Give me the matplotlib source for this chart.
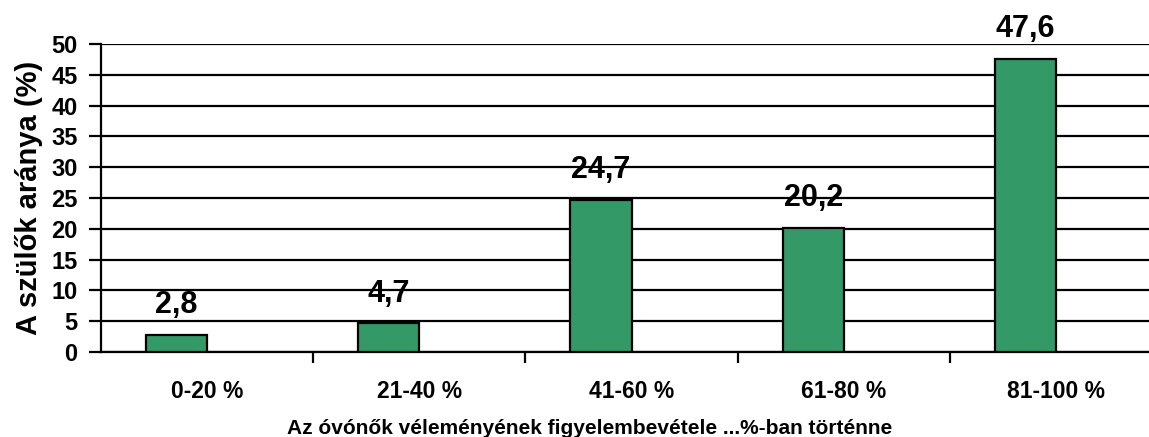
import matplotlib.pyplot as plt
import numpy as np

plt.rcParams['font.family'] = ['Liberation Sans', 'DejaVu Sans']
plt.rcParams['font.weight'] = 'bold'

categories = ["0-20 %", "21-40 %", "41-60 %", "61-80 %", "81-100 %"]
values = [2.8, 4.7, 24.7, 20.2, 47.6]
value_labels = ["2,8", "4,7", "24,7", "20,2", "47,6"]

fig = plt.figure(figsize=(11.49, 4.37), dpi=100)
# the plot area runs a little past the right edge, as in the original
ax = fig.add_axes([101 / 1149, 85 / 437, 1061 / 1149, 308 / 437])

x = np.arange(len(categories))
bar_w = 0.288
ax.bar(x - bar_w / 2, values, width=bar_w, color='#339966',
       edgecolor='black', linewidth=1.6, zorder=3)

for xi, v, lab in zip(x, values, value_labels):
    ax.annotate(lab, (xi - bar_w / 2, v), xytext=(0, 15.5), textcoords='offset points',
                ha='center', va='baseline', fontsize=22, fontweight='bold', zorder=4)

ax.set_xlim(-0.5, len(categories) - 0.5)
ax.set_ylim(0, 50)
ax.set_yticks(np.arange(0, 51, 5))
ax.yaxis.grid(True, color='black', linewidth=1.6, zorder=0)
ax.set_axisbelow(True)

ax.set_xticks(x)
ax.set_xticklabels(categories, fontsize=16.5, fontweight='bold')
ax.set_xticks(np.arange(0.5, len(categories) - 0.5, 1), minor=True)
ax.tick_params(axis='x', which='major', length=0, pad=20)
ax.tick_params(axis='x', which='minor', length=8, width=1.6, direction='out')
ax.tick_params(axis='y', length=9, width=1.6, pad=8, labelsize=17)
for lab in ax.get_yticklabels():
    lab.set_fontweight('bold')

for s in ['top', 'right']:
    ax.spines[s].set_visible(False)
ax.spines['left'].set_linewidth(1.6)
ax.spines['bottom'].set_linewidth(1.6)

ax.set_ylabel("A szülők aránya (%)", fontsize=21, fontweight='bold', labelpad=6)
fig.text(590 / 1149, 1 - 428 / 437,
         "Az óvónők véleményének figyelembevétele ...%-ban történne",
         ha='center', va='center', fontsize=15, fontweight='bold')

fig.savefig("out.png", dpi=100)
